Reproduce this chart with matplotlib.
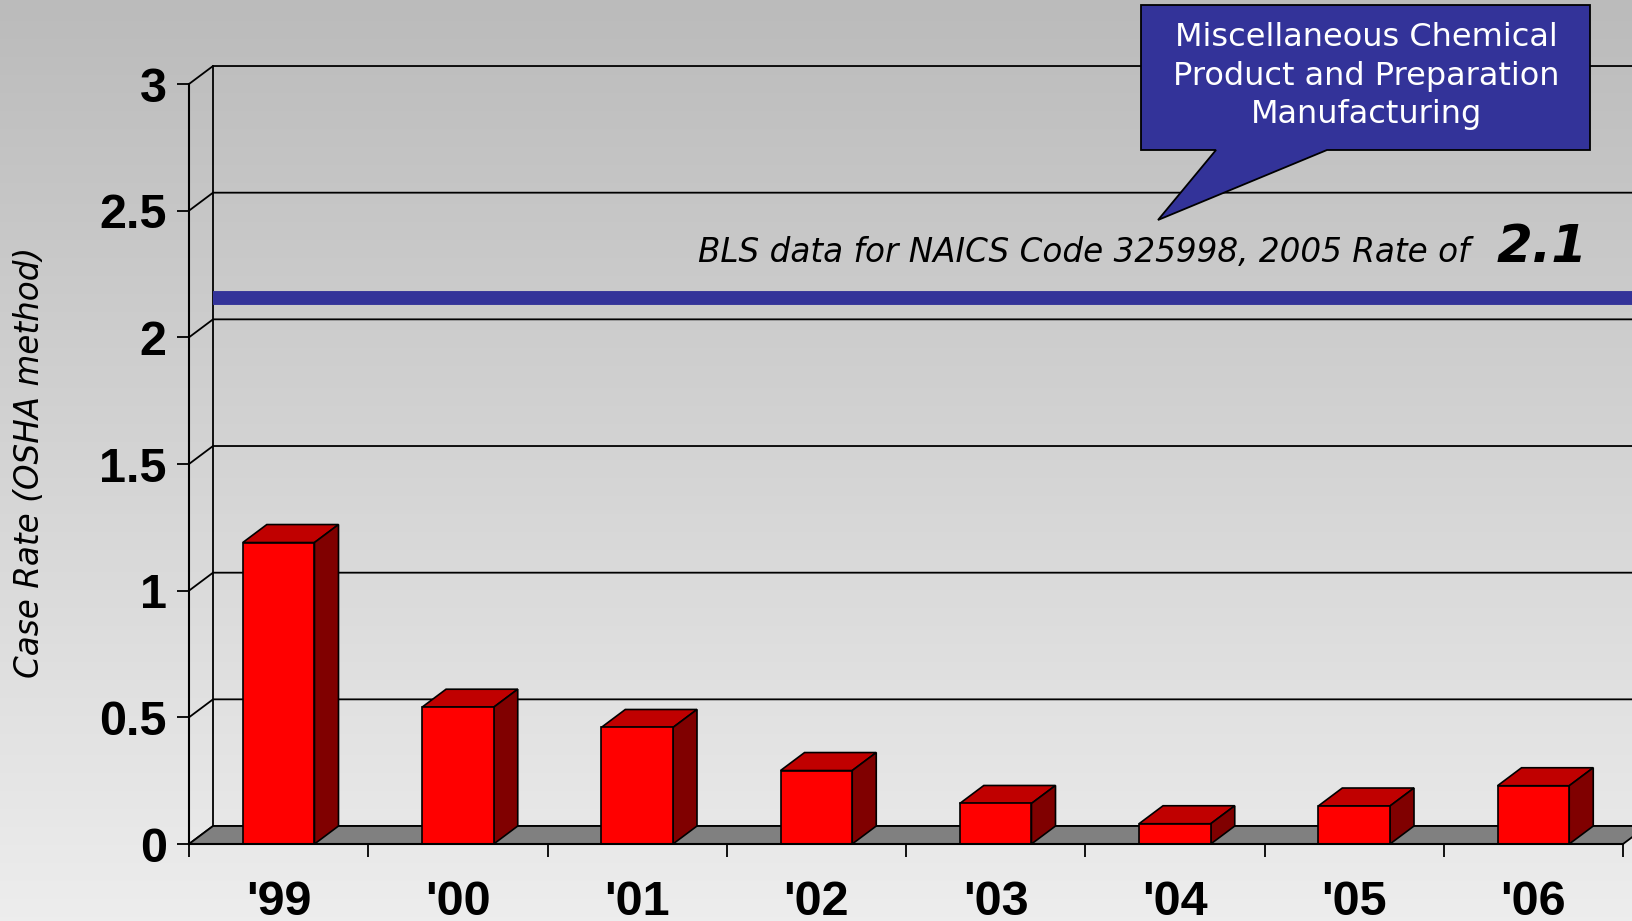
"""
Case rate vs. BLS benchmark -- PowerPoint-style 3D bar chart
"""
import numpy as np
import matplotlib
matplotlib.use("Agg")
import matplotlib.pyplot as plt
from matplotlib.patches import Polygon

# ── Data ───────────────────────────────────────────────────────────────────────
years = ["'99", "'00", "'01", "'02", "'03", "'04", "'05", "'06"]
case_rate = [1.19, 0.54, 0.46, 0.29, 0.16, 0.08, 0.15, 0.23]
y_ticks = [0, 0.5, 1, 1.5, 2, 2.5, 3]
y_tick_labels = ["0", "0.5", "1", "1.5", "2", "2.5", "3"]
bls_rate = 2.1

# ── Style ──────────────────────────────────────────────────────────────────────
RED_FRONT = "#FF0000"
RED_TOP   = "#C00000"
RED_SIDE  = "#800000"
FLOOR     = "#808080"
NAVY      = "#333399"
BG_TOP    = np.array([187, 187, 187]) / 255
BG_BOT    = np.array([237, 237, 237]) / 255
DX, DY    = 0.134, 0.071      # 3D depth offset in data units
BAR_W     = 0.4

W, H = 1632, 921
fig = plt.figure(figsize=(W / 100, H / 100), dpi=100)

# gradient background
bg = fig.add_axes([0, 0, 1, 1], zorder=-10)
grad = np.linspace(0, 1, 256)[:, None, None]
img = BG_TOP * (1 - grad) + BG_BOT * grad
bg.imshow(np.repeat(img, 2, axis=1), aspect="auto", extent=[0, 1, 0, 1])
bg.axis("off")

ax = fig.add_axes([189 / W, 1 - 844 / H, 1434 / W, 760 / H])
ax.patch.set_visible(False)
ax.set_xlim(0, len(years))
ax.set_ylim(0, 3)

# back wall: gridlines + diagonals on the side wall
for v in y_ticks:
    ax.plot([0, DX, len(years) + DX], [v, v + DY, v + DY], color="black",
            lw=1.3, clip_on=False, zorder=1)
ax.plot([DX, DX], [DY, 3 + DY], color="black", lw=1.3, clip_on=False, zorder=1)

# floor
floor = Polygon([(0, 0), (len(years), 0), (len(years) + DX, DY), (DX, DY)],
                closed=True, facecolor=FLOOR, edgecolor="black", lw=1.3,
                clip_on=False, zorder=2)
ax.add_patch(floor)

# BLS benchmark line on the back wall (drawn slightly low, as in the slide)
ax.plot([DX, len(years) + 0.5], [bls_rate + DY - 0.015] * 2, color=NAVY, lw=10,
        solid_capstyle="butt", clip_on=False, zorder=3)

# bars
xc = np.arange(len(years)) + 0.5
ax.bar(xc, case_rate, width=BAR_W, color=RED_FRONT, edgecolor="black",
       linewidth=1.2, zorder=5, clip_on=False)
for x, v in zip(xc, case_rate):
    x0, x1 = x - BAR_W / 2, x + BAR_W / 2
    top = Polygon([(x0, v), (x1, v), (x1 + DX, v + DY), (x0 + DX, v + DY)],
                  closed=True, facecolor=RED_TOP, edgecolor="black", lw=1.2,
                  clip_on=False, zorder=4)
    side = Polygon([(x1, 0), (x1 + DX, DY), (x1 + DX, v + DY), (x1, v)],
                   closed=True, facecolor=RED_SIDE, edgecolor="black", lw=1.2,
                   clip_on=False, zorder=4)
    ax.add_patch(top)
    ax.add_patch(side)

# axes / ticks
for s in ["top", "right"]:
    ax.spines[s].set_visible(False)
for s in ["left", "bottom"]:
    ax.spines[s].set_linewidth(1.5)
    ax.spines[s].set_zorder(6)

ax.set_yticks(y_ticks)
ax.set_yticklabels(y_tick_labels, fontsize=35, fontweight="bold",
                   family="Liberation Sans")
ax.tick_params(axis="y", direction="out", length=9, width=1.3, pad=7)

ax.set_xticks(np.arange(len(years) + 1))
ax.set_xticklabels([])
ax.set_xticks(xc, minor=True)
ax.set_xticklabels(years, minor=True, fontsize=35, fontweight="bold",
                   family="Liberation Sans")
ax.tick_params(axis="x", which="major", direction="out", length=9, width=1.3)
ax.tick_params(axis="x", which="minor", length=0, pad=26)

# y axis title
fig.text(30 / W, 1 - 462 / H, "Case Rate (OSHA method)", fontsize=23.5,
         style="italic", family="DejaVu Sans", rotation=90,
         ha="center", va="center")

# annotation text on the back wall
fig.text(698 / W, 1 - 262 / H, "BLS data for NAICS Code 325998, 2005 Rate of",
         fontsize=23.5, style="italic", family="DejaVu Sans", va="baseline",
         ha="left")
fig.text(1497 / W, 1 - 262 / H, f"{bls_rate:.1f}", fontsize=37, style="italic",
         fontweight="bold", family="DejaVu Sans", va="baseline", ha="left")

# callout box
pts = [(1141, 5), (1590, 5), (1590, 150), (1327, 150), (1158, 220),
       (1216, 150), (1141, 150)]
callout = Polygon([(x / W, 1 - y / H) for x, y in pts], closed=True,
                  facecolor=NAVY, edgecolor="black", lw=1.3,
                  transform=fig.transFigure, zorder=20)
fig.add_artist(callout)
fig.text(1366 / W, 1 - 76 / H,
         "Miscellaneous Chemical\nProduct and Preparation\nManufacturing",
         fontsize=23, color="white", family="DejaVu Sans", ha="center",
         va="center", multialignment="center", linespacing=1.32, zorder=21)

fig.savefig("out.png", dpi=100)
